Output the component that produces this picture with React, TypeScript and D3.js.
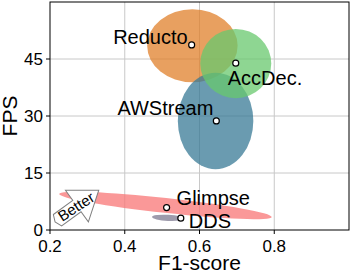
import * as d3 from 'd3';

// systems and their mean operating point
const systems = ['Reducto', 'AccDec.', 'AWStream', 'Glimpse', 'DDS'];
const f1Scores = [0.579, 0.697, 0.645, 0.512, 0.55];
const fpsValues = [48.7, 43.9, 28.7, 5.9, 3.1];

// spread of each system (ellipse centre, radii in data units, tilt in degrees)
const spreadCx = [0.581, 0.697, 0.643, 0.509, 0.516];
const spreadCy = [48.5, 43.8, 28.7, 6.45, 3.2];
const spreadRx = [0.121, 0.095, 0.101, 0.286, 0.043];
const spreadRy = [9.6, 9.1, 12.7, 1.95, 0.8];
const spreadTilt = [0, 0, 0, 6.2, 3];

const xTicks = [0.2, 0.4, 0.6, 0.8];
const yTicks = [0, 15, 30, 45];

const colors: Record<string, string> = {
  Reducto: '#e0802b',
  'AccDec.': '#68c86e',
  AWStream: '#387a96',
  Glimpse: '#f87676',
  DDS: '#7d7a90'
};
// draw order of the ellipses
const drawOrder = ['Reducto', 'AWStream', 'AccDec.', 'Glimpse', 'DDS'];

// label placement relative to the point (px)
const labelPos: Record<string, { dx: number; dy: number; anchor: string }> = {
  Reducto: { dx: -4, dy: -1, anchor: 'end' },
  'AccDec.': { dx: -8, dy: 22, anchor: 'start' },
  AWStream: { dx: -3, dy: -6, anchor: 'end' },
  Glimpse: { dx: 10, dy: -3, anchor: 'start' },
  DDS: { dx: 8, dy: 10, anchor: 'start' }
};

export default function App() {
  const width = 350;
  const height = 274;
  const left = 50;
  const right = 349;
  const top = 2;
  const bottom = 230;
  const font = "'Liberation Sans', Arial, sans-serif";

  const x = d3.scaleLinear().domain([0.2, 1.0]).range([left, right]);
  const y = d3.scaleLinear().domain([0, 60]).range([bottom, top]);

  const idx = (name: string) => systems.indexOf(name);

  // "Better" arrow anchored in data coordinates
  const arrowX = x(0.272);
  const arrowY = y(6.3);
  const arrowPath = d3.path();
  arrowPath.moveTo(-24, -7);
  arrowPath.lineTo(0, -7);
  arrowPath.lineTo(0, -19.5);
  arrowPath.lineTo(27, 0);
  arrowPath.lineTo(0, 19.5);
  arrowPath.lineTo(0, 7);
  arrowPath.lineTo(-24, 7);
  arrowPath.lineTo(-27, 0);
  arrowPath.closePath();

  return (
    <svg
      width={width}
      height={height}
      style={{ position: 'absolute', left: 0, top: 0, background: '#fff' }}
      fontFamily={font}
    >
      <defs>
        <clipPath id="plot-clip">
          <rect x={left} y={top} width={right - left} height={bottom - top} />
        </clipPath>
      </defs>

      {/* grid */}
      {xTicks.slice(1).map((t) => (
        <line key={'gx' + t} x1={x(t)} x2={x(t)} y1={top} y2={bottom} stroke="#c8c8c8" strokeWidth={1} />
      ))}
      {yTicks.slice(1).map((t) => (
        <line key={'gy' + t} x1={left} x2={right} y1={y(t)} y2={y(t)} stroke="#c8c8c8" strokeWidth={1} />
      ))}

      {/* spread ellipses */}
      <g clipPath="url(#plot-clip)">
        {drawOrder.map((name) => {
          const i = idx(name);
          const cx = x(spreadCx[i]);
          const cy = y(spreadCy[i]);
          return (
            <ellipse
              key={name}
              cx={cx}
              cy={cy}
              rx={x(spreadRx[i]) - x(0)}
              ry={y(0) - y(spreadRy[i])}
              transform={`rotate(${spreadTilt[i]} ${cx} ${cy})`}
              fill={colors[name]}
              fillOpacity={0.75}
            />
          );
        })}
      </g>

      {/* points */}
      {systems.map((name, i) => (
        <circle
          key={'p' + name}
          cx={x(f1Scores[i])}
          cy={y(fpsValues[i])}
          r={3}
          fill="#fff"
          stroke="#000"
          strokeWidth={1.2}
        />
      ))}

      {/* labels */}
      {systems.map((name, i) => {
        const p = labelPos[name];
        return (
          <text
            key={'l' + name}
            x={x(f1Scores[i]) + p.dx}
            y={y(fpsValues[i]) + p.dy}
            textAnchor={p.anchor}
            fontSize={20}
            fill="#000"
          >
            {name}
          </text>
        );
      })}

      {/* Better arrow */}
      <g transform={`translate(${arrowX},${arrowY}) rotate(-36)`}>
        <path d={arrowPath.toString()} fill="#fff" stroke="#808080" strokeWidth={1} />
        <text
          x={-1}
          y={0}
          dy="0.35em"
          textAnchor="middle"
          fontSize={15}
          fill="#000"
          transform="rotate(3)"
        >
          Better
        </text>
      </g>

      {/* frame */}
      <rect x={left} y={top} width={right - left} height={bottom - top} fill="none" stroke="#000" strokeWidth={1} />

      {/* x axis */}
      {xTicks.map((t) => (
        <g key={'xt' + t}>
          <line x1={x(t)} x2={x(t)} y1={bottom} y2={bottom + 4} stroke="#000" />
          <text x={x(t)} y={bottom + 22} textAnchor="middle" fontSize={17}>
            {d3.format('.1f')(t)}
          </text>
        </g>
      ))}
      <text x={(left + right) / 2} y={270} textAnchor="middle" fontSize={21}>
        F1-score
      </text>

      {/* y axis */}
      {yTicks.map((t) => (
        <g key={'yt' + t}>
          <line x1={left - 4} x2={left} y1={y(t)} y2={y(t)} stroke="#000" />
          <text x={left - 7} y={y(t)} dy="0.35em" textAnchor="end" fontSize={17}>
            {t}
          </text>
        </g>
      ))}
      <text
        transform={`translate(17,${(top + bottom) / 2}) rotate(-90)`}
        textAnchor="middle"
        fontSize={21}
      >
        FPS
      </text>
    </svg>
  );
}
